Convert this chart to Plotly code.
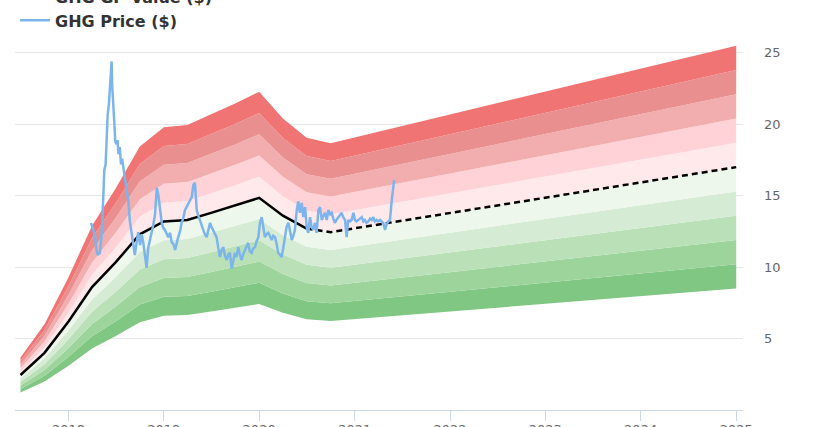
import plotly.graph_objects as go

# ---------------- data ----------------
value_hist_dates = ["2017-07-01", "2017-10-01", "2018-01-01", "2018-04-01", "2018-07-01",
                    "2018-10-01", "2019-01-01", "2019-04-01", "2019-07-01", "2019-10-01",
                    "2020-01-01", "2020-04-01", "2020-07-01"]
value_hist_vals = [2.45, 4.0, 6.2, 8.6, 10.35, 12.3, 13.2, 13.3, 13.8, 14.3, 14.85, 13.6, 12.7]

value_fcst_dates = ["2020-07-01", "2020-10-01", "2025-01-01"]
value_fcst_vals = [12.7, 12.45, 17.0]

band_multipliers = [0.5, 0.6, 0.7, 0.8, 0.9, 1.0, 1.1, 1.2, 1.3, 1.4, 1.5]

price_dates = [
    "2018-03-28", "2018-04-05", "2018-04-12", "2018-04-18", "2018-04-23", "2018-05-01",
    "2018-05-08", "2018-05-14", "2018-05-18", "2018-05-23", "2018-05-27", "2018-05-31",
    "2018-06-05", "2018-06-09", "2018-06-13", "2018-06-15", "2018-06-17", "2018-06-19",
    "2018-06-22", "2018-06-25", "2018-06-29", "2018-07-04", "2018-07-08", "2018-07-11",
    "2018-07-16", "2018-07-21", "2018-07-25", "2018-07-30", "2018-08-04", "2018-08-08",
    "2018-08-13", "2018-08-18", "2018-08-24", "2018-08-31", "2018-09-06", "2018-09-12",
    "2018-09-19", "2018-09-25", "2018-10-02", "2018-10-08", "2018-10-14", "2018-10-21",
    "2018-10-27", "2018-11-02", "2018-11-08", "2018-11-15", "2018-11-21", "2018-11-28",
    "2018-12-05", "2018-12-11", "2018-12-17", "2018-12-24", "2018-12-30", "2019-01-05",
    "2019-01-18", "2019-01-25", "2019-01-31", "2019-02-07", "2019-02-13", "2019-02-19",
    "2019-02-25", "2019-03-04", "2019-03-10", "2019-03-16", "2019-03-23", "2019-03-29",
    "2019-04-05", "2019-04-12", "2019-04-18", "2019-04-24", "2019-04-30", "2019-05-03",
    "2019-05-07", "2019-05-13", "2019-05-19", "2019-05-25", "2019-06-01", "2019-06-07",
    "2019-06-14", "2019-06-20", "2019-06-27", "2019-07-03", "2019-07-09", "2019-07-15",
    "2019-07-22", "2019-07-28", "2019-08-04", "2019-08-10", "2019-08-17", "2019-08-23",
    "2019-08-30", "2019-09-05", "2019-09-11", "2019-09-18", "2019-09-24", "2019-09-30",
    "2019-10-06", "2019-10-13", "2019-10-19", "2019-10-26", "2019-11-01", "2019-11-08",
    "2019-11-14", "2019-11-20", "2019-11-26", "2019-12-03", "2019-12-09", "2019-12-16",
    "2019-12-22", "2019-12-29", "2020-01-04", "2020-01-11", "2020-01-17", "2020-01-23",
    "2020-01-29", "2020-02-05", "2020-02-11", "2020-02-18", "2020-02-24", "2020-03-02",
    "2020-03-08", "2020-03-14", "2020-03-20", "2020-03-27", "2020-04-02", "2020-04-09",
    "2020-04-15", "2020-04-22", "2020-04-28", "2020-05-05", "2020-05-11", "2020-05-17",
    "2020-05-24", "2020-05-30", "2020-06-05", "2020-06-12", "2020-06-18", "2020-06-25",
    "2020-07-01", "2020-07-07", "2020-07-14", "2020-07-20", "2020-07-26", "2020-08-02",
    "2020-08-08", "2020-08-15", "2020-08-21", "2020-08-28", "2020-09-03", "2020-09-09",
    "2020-09-16", "2020-09-22", "2020-09-29", "2020-10-05", "2020-10-11", "2020-10-17",
    "2020-10-23", "2020-10-30", "2020-11-05", "2020-11-12", "2020-11-18", "2020-11-25",
    "2020-12-01", "2020-12-07", "2020-12-14", "2020-12-20", "2020-12-27", "2021-01-02",
    "2021-01-08", "2021-01-15", "2021-01-21", "2021-01-28", "2021-02-03", "2021-02-09",
    "2021-02-15", "2021-02-22", "2021-03-01", "2021-03-07", "2021-03-13", "2021-03-19",
    "2021-03-26", "2021-04-01", "2021-04-08", "2021-04-14", "2021-04-20", "2021-04-27",
    "2021-05-03", "2021-05-10", "2021-05-16", "2021-05-23", "2021-05-29", "2021-06-01",
]
price_vals = [
    13.1, 12.6, 12.25, 11.2, 10.85, 11.0,
    12.25, 14.85, 16.8, 17.2, 19.5, 20.7,
    21.5, 22.5, 23.2, 24.4, 22.8, 21.85,
    21.0, 20.2, 18.8, 18.6, 18.9, 17.9,
    18.4, 17.2, 17.6, 16.9, 16.5, 16.0,
    15.3, 14.6, 13.2, 12.25, 11.35, 10.85,
    11.75, 12.45, 11.55, 12.3, 11.75, 10.85,
    9.95, 11.35, 11.8, 12.25, 12.9, 13.65,
    15.55, 15.05, 14.3, 13.1, 12.75, 12.6,
    12.1, 12.4, 11.75, 11.6, 11.2, 11.7,
    12.1, 12.5, 13.1, 13.4, 14.0, 14.2,
    14.5, 14.7, 14.9, 15.75, 15.9, 15.0,
    14.0, 13.6, 13.3, 12.9, 12.6, 12.3,
    12.1, 12.6, 13.1, 12.8, 12.6, 12.3,
    12.1, 11.4, 10.7, 11.2, 11.4, 10.8,
    10.5, 10.9, 11.0, 9.9, 10.6, 11.0,
    10.7, 11.4, 10.9, 10.5, 10.9, 11.2,
    11.5, 11.7, 11.1, 11.0, 11.3, 11.4,
    11.8, 12.1, 13.1, 13.5, 12.8, 12.1,
    12.3, 12.4, 12.2, 11.9, 12.2, 12.1,
    11.6, 11.0, 10.9, 10.7, 11.3, 12.1,
    12.8, 13.1, 12.4, 11.9, 12.2, 12.6,
    14.0, 14.6, 13.8, 14.5, 13.5, 14.2,
    12.8, 12.4, 13.5, 12.8, 12.6, 13.1,
    12.4, 14.0, 14.2, 13.3, 13.6, 13.8,
    13.3, 14.0, 13.7, 13.8, 13.4, 13.1,
    13.3, 13.5, 13.6, 13.8, 13.5, 13.3,
    12.1, 13.3, 13.2, 13.3, 13.8, 13.3,
    13.2, 13.3, 13.4, 13.5, 13.2, 13.3,
    13.1, 13.2, 13.4, 13.3, 13.5, 13.2,
    13.3, 13.2, 13.3, 13.2, 13.1, 12.6,
    13.0, 13.2, 13.3, 14.7, 15.9, 16.1,
]

year_tick_dates = ["2018-01-01", "2019-01-01", "2020-01-01", "2021-01-01",
                   "2022-01-01", "2023-01-01", "2024-01-01", "2025-01-01"]
year_tick_labels = ["2018", "2019", "2020", "2021", "2022", "2023", "2024", "2025"]
y_tick_vals = [5, 10, 15, 20, 25]

# ---------------- styles ----------------
band_colors = ["#80c783", "#9dd49c", "#b9e0b7", "#d5ebd3", "#eef7ec",
               "#ffe9ea", "#fed2d6", "#f2aeae", "#e98f8f", "#f07474"]
price_color = "#7cb5ec"
font_family = "DejaVu Sans"

fig = go.Figure()

band_dates = value_hist_dates[:-1] + value_fcst_dates
band_base = value_hist_vals[:-1] + value_fcst_vals

for i, m in enumerate(band_multipliers):
    fig.add_trace(go.Scatter(
        x=band_dates, y=[v * m for v in band_base], mode="lines",
        line=dict(width=0, color="rgba(0,0,0,0)"),
        fill=None if i == 0 else "tonexty",
        fillcolor=None if i == 0 else band_colors[i - 1],
        showlegend=False, hoverinfo="skip"))

fig.add_trace(go.Scatter(
    x=value_hist_dates, y=value_hist_vals, mode="lines",
    line=dict(color="#000000", width=2.5), name="GHG GP Value ($)",
    legendgroup="gp"))
fig.add_trace(go.Scatter(
    x=value_fcst_dates, y=value_fcst_vals, mode="lines",
    line=dict(color="#000000", width=2.5, dash="6px,4px"),
    showlegend=False, legendgroup="gp"))
fig.add_trace(go.Scatter(
    x=price_dates, y=price_vals, mode="lines",
    line=dict(color=price_color, width=2.5), name="GHG Price ($)"))

fig.update_layout(
    width=820, height=427,
    margin=dict(l=15, r=77, t=10, b=17, autoexpand=False),
    paper_bgcolor="white", plot_bgcolor="white",
    font=dict(family=font_family, color="#666666", size=13),
    showlegend=True,
    legend=dict(x=0.0, y=1.076, xanchor="left", yanchor="top",
                bgcolor="rgba(0,0,0,0)", itemwidth=30,
                font=dict(family=font_family, size=16, color="#333333", weight="bold"),
                tracegroupgap=0),
    xaxis=dict(
        type="date", range=["2017-06-10", "2025-01-27"],
        tickvals=year_tick_dates, ticktext=year_tick_labels,
        showgrid=False, zeroline=False,
        showline=True, linecolor="#ccd6eb", linewidth=1,
        ticks="outside", ticklen=10, tickcolor="#ccd6eb",
        ticklabelstandoff=-3,
        tickfont=dict(size=13, color="#666666")),
    yaxis=dict(
        range=[0, 28], side="right", tickvals=y_tick_vals,
        showgrid=True, gridcolor="#e6e6e6", gridwidth=1,
        zeroline=False, showline=False, ticks="",
        ticklabelstandoff=20,
        tickfont=dict(size=13, color="#666666")),
    hovermode=False,
)

fig.write_html("out.html", config={"displayModeBar": False},
               post_script="document.body.style.margin='0';document.body.style.overflow='hidden';")
